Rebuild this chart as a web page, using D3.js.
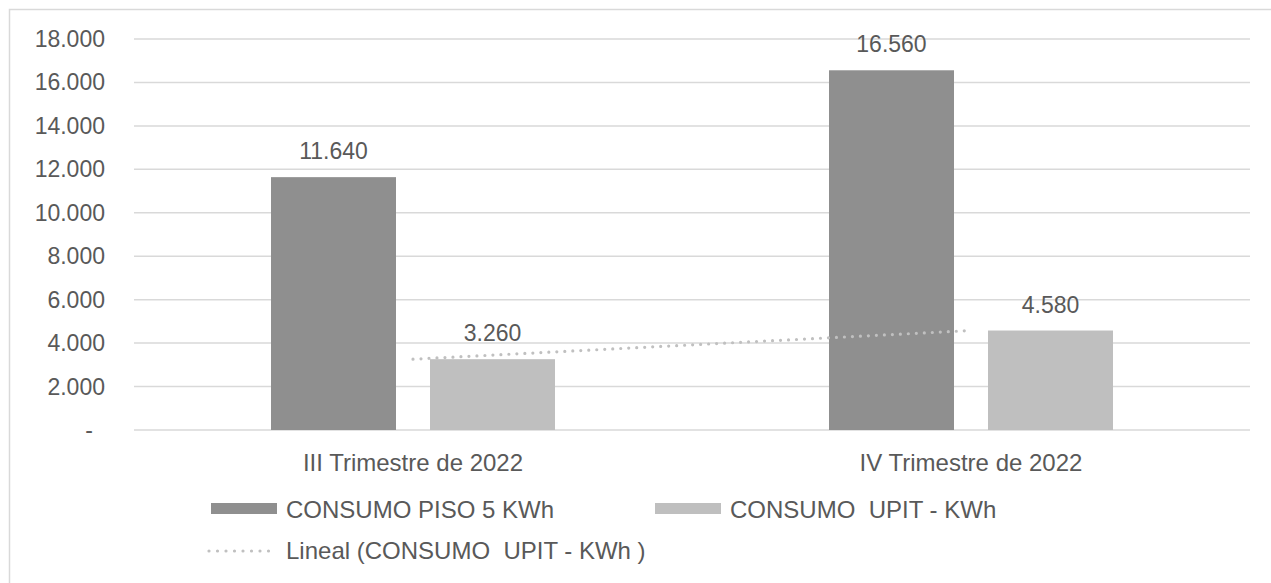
<!DOCTYPE html>
<html lang="es">
<head>
<meta charset="utf-8">
<title>Consumo KWh 2022</title>
<script src="https://d3js.org/d3.v7.min.js"></script>
<style>
  body { margin: 0; background: #fff; }
  svg text { font-family: "Liberation Sans", Arial, sans-serif; fill: #595959; white-space: pre; }
</style>
</head>
<body>
<svg class="chart"></svg>
<script>
// data
var categories = ["III Trimestre de 2022", "IV Trimestre de 2022"];
var seriesNames = ["CONSUMO PISO 5 KWh", "CONSUMO  UPIT - KWh"];
var piso5 = [11640, 16560];
var upit = [3260, 4580];
var trendName = "Lineal (CONSUMO  UPIT - KWh )";
var yTicks = [0, 2000, 4000, 6000, 8000, 10000, 12000, 14000, 16000, 18000];

var colors = ["#8f8f8f", "#bfbfbf"];
var values = [piso5, upit];

var width = 1271, height = 583;
var plot = {left: 134, right: 1250, top: 39, bottom: 430};
var fs = 24;

var es = d3.formatLocale({decimal: ",", thousands: ".", grouping: [3], currency: ["", ""]});
var fmt = es.format(",.0f");

var svg = d3.select(".chart")
  .attr("width", width)
  .attr("height", height);

// frame
svg.append("rect")
  .attr("x", 9.5).attr("y", 9.5)
  .attr("width", width + 20).attr("height", height + 20)
  .attr("fill", "none")
  .attr("stroke", "#d9d9d9")
  .attr("stroke-width", 1.5);

var x0 = d3.scaleBand().domain(categories).range([plot.left, plot.right]);
var x1 = d3.scaleBand().domain(seriesNames).range([-142, 142]).paddingInner(34 / 159);
var y = d3.scaleLinear().domain([0, 18000]).range([plot.bottom, plot.top]);

// gridlines
svg.append("g").selectAll("line")
  .data(yTicks)
  .enter().append("line")
  .attr("x1", plot.left).attr("x2", plot.right)
  .attr("y1", function(d){ return y(d); })
  .attr("y2", function(d){ return y(d); })
  .attr("stroke", "#d9d9d9")
  .attr("stroke-width", 1.5);

// y labels
svg.append("g").selectAll("text")
  .data(yTicks)
  .enter().append("text")
  .attr("x", function(d){ return d === 0 ? 93 : 105; })
  .attr("y", function(d){ return y(d); })
  .attr("dy", "0.35em")
  .attr("text-anchor", "end")
  .style("font-size", "23px")
  .text(function(d){ return d === 0 ? "-" : fmt(d); });

// bars
var rows = [];
categories.forEach(function(c, i){
  seriesNames.forEach(function(s, j){
    rows.push({cat: c, series: s, value: values[j][i], color: colors[j]});
  });
});

svg.append("g").selectAll("rect")
  .data(rows)
  .enter().append("rect")
  .attr("x", function(d){ return x0(d.cat) + x0.bandwidth() / 2 + x1(d.series); })
  .attr("y", function(d){ return y(d.value); })
  .attr("width", x1.bandwidth())
  .attr("height", function(d){ return y(0) - y(d.value); })
  .attr("fill", function(d){ return d.color; });

// trend line (linear fit through the UPIT series)
var trendPts = categories.map(function(c, i){ return [x0(c) + x0.bandwidth() / 2, y(upit[i])]; });
svg.append("path")
  .attr("d", d3.line()(trendPts))
  .attr("fill", "none")
  .attr("stroke", "#c0c0c0")
  .attr("stroke-width", 3.2)
  .attr("stroke-linecap", "round")
  .attr("stroke-dasharray", "0 8");

// data labels
svg.append("g").selectAll("text")
  .data(rows)
  .enter().append("text")
  .attr("x", function(d){ return x0(d.cat) + x0.bandwidth() / 2 + x1(d.series) + x1.bandwidth() / 2; })
  .attr("y", function(d){ return y(d.value) - 18; })
  .attr("text-anchor", "middle")
  .style("font-size", "23px")
  .text(function(d){ return fmt(d.value); });

// category labels
svg.append("g").selectAll("text")
  .data(categories)
  .enter().append("text")
  .attr("x", function(d){ return x0(d) + x0.bandwidth() / 2; })
  .attr("y", 471)
  .attr("text-anchor", "middle")
  .style("font-size", fs + "px")
  .text(function(d){ return d; });

// legend
var legend = svg.append("g");
seriesNames.forEach(function(s, j){
  var lx = 211 + j * 444;
  legend.append("rect")
    .attr("x", lx).attr("y", 503)
    .attr("width", 66).attr("height", 11)
    .attr("fill", colors[j]);
  legend.append("text")
    .attr("x", lx + 75).attr("y", 518)
    .style("font-size", fs + "px")
    .text(s);
});
legend.append("line")
  .attr("x1", 209).attr("x2", 277)
  .attr("y1", 551).attr("y2", 551)
  .attr("stroke", "#c0c0c0")
  .attr("stroke-width", 3.2)
  .attr("stroke-linecap", "round")
  .attr("stroke-dasharray", "0 8.5");
legend.append("text")
  .attr("x", 286).attr("y", 559)
  .style("font-size", fs + "px")
  .text(trendName);
</script>
</body>
</html>
